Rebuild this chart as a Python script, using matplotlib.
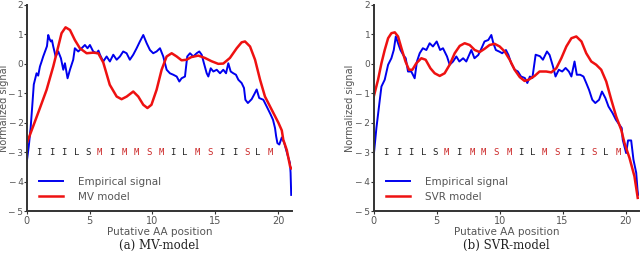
import matplotlib
matplotlib.use("Agg")
import matplotlib.pyplot as plt

# ---- data ----
# empirical signal, left panel
emp_a_x = [0.0, 0.15, 0.3, 0.45, 0.55, 0.77, 0.9, 1.04, 1.15, 1.3, 1.49, 1.6, 1.7, 1.8, 1.91, 2.0,
           2.1, 2.29, 2.5, 2.71, 2.9, 3.03, 3.24, 3.43, 3.69, 3.82, 4.09, 4.36, 4.62, 4.83, 5.02,
           5.28, 5.55, 5.7, 5.82, 6.08, 6.35, 6.61, 6.88, 7.15, 7.41, 7.67, 7.94, 8.2, 8.47,
           8.74, 9.0, 9.27, 9.54, 9.8, 10.06, 10.33, 10.6, 10.86, 11.13, 11.39, 11.66, 11.93,
           12.14, 12.32, 12.59, 12.77, 12.99, 13.25, 13.52, 13.73, 13.92, 14.1, 14.32, 14.45,
           14.64, 14.85, 15.12, 15.38, 15.64, 15.86, 16.04, 16.23, 16.44, 16.65, 16.84, 17.1,
           17.29, 17.4, 17.6, 17.9, 18.1, 18.3, 18.5, 18.83, 19.1, 19.4, 19.6, 19.76, 19.85,
           19.95, 20.1, 20.3, 20.5, 20.75, 20.95, 21.0, 21.05]
emp_a_y = [-3.3, -2.8, -2.17, -1.3, -0.7, -0.32, -0.4, -0.09, 0.05, 0.25, 0.47, 0.6, 0.98, 0.85, 0.76, 0.8,
           0.59, 0.25, 0.42, 0.19, -0.2, 0.02, -0.49, -0.2, 0.14, 0.53, 0.42, 0.53, 0.64, 0.53, 0.64,
           0.42, 0.36, 0.45, 0.31, 0.08, 0.25, 0.08, 0.31, 0.14, 0.25, 0.42, 0.36, 0.14, 0.31,
           0.53, 0.76, 0.98, 0.7, 0.47, 0.36, 0.42, 0.53, 0.25, -0.2, -0.32, -0.37, -0.43,
           -0.6, -0.49, -0.43, 0.25, 0.36, 0.25, 0.36, 0.42, 0.31, 0.02, -0.32, -0.43,
           -0.15, -0.26, -0.2, -0.32, -0.2, -0.32, 0.02, -0.26, -0.32, -0.37, -0.54, -0.65,
           -0.82, -1.22, -1.33, -1.2, -1.04, -0.87, -1.16, -1.22, -1.45, -1.71, -1.9, -2.18, -2.46,
           -2.69, -2.74, -2.5, -2.69, -3.08, -3.37, -3.7, -4.45]

mv_x = [0.0, 0.5, 1.04, 1.57, 2.1, 2.5, 2.76, 3.08, 3.43, 3.82, 4.22, 4.76, 5.28, 5.68, 6.08,
        6.6, 7.15, 7.54, 7.95, 8.47, 8.87, 9.27, 9.6, 9.92, 10.33, 10.73, 11.13, 11.53, 11.93,
        12.32, 12.72, 13.1, 13.65, 14.18, 14.7, 15.24, 15.64, 16.17, 16.71, 17.1, 17.37, 17.77,
        18.17, 18.57, 18.96, 19.5, 20.03, 20.3, 20.42, 20.7, 20.96, 21.05]
mv_y = [-2.69, -2.12, -1.5, -0.88, -0.09, 0.59, 1.04, 1.24, 1.15, 0.81, 0.53, 0.36, 0.38, 0.36, 0.05,
        -0.71, -1.11, -1.2, -1.11, -0.94, -1.11, -1.39, -1.5, -1.39, -0.88, -0.2, 0.25, 0.36, 0.25,
        0.12, 0.14, 0.23, 0.28, 0.2, 0.09, 0.0, 0.01, 0.2, 0.53, 0.73, 0.76, 0.59,
        0.14, -0.54, -1.11, -1.56, -2.0, -2.26, -2.58, -2.93, -3.48, -3.55]

# empirical signal, right panel
emp_b_x = [0.0, 0.21, 0.48, 0.61, 0.87, 1.14, 1.4, 1.59, 1.75, 1.93, 2.12, 2.33, 2.54, 2.72, 2.98,
           3.25, 3.43, 3.65, 3.9, 4.18, 4.44, 4.7, 5.0, 5.27, 5.5, 5.82, 6.03, 6.3, 6.56, 6.8, 7.1,
           7.35, 7.75, 8.0, 8.3, 8.5, 8.8, 9.1, 9.34, 9.5, 9.7, 10.0, 10.2, 10.5, 10.7, 10.92, 11.2,
           11.45, 11.7, 12.0, 12.2, 12.4, 12.6, 12.86, 13.2, 13.44, 13.76, 13.97, 14.24, 14.44,
           14.7, 14.97, 15.24, 15.5, 15.7, 15.95, 16.13, 16.4, 16.66, 16.88, 17.1, 17.36, 17.6,
           17.9, 18.13, 18.4, 18.65, 18.97, 19.24, 19.5, 19.7, 19.78, 20.05, 20.2, 20.45, 20.63,
           20.85, 20.95, 21.0]
emp_b_y = [-3.1, -2.18, -1.22, -0.77, -0.54, -0.03, 0.19, 0.47, 0.93, 0.7, 0.47, 0.31, 0.19, -0.26, -0.26,
           -0.49, 0.08, 0.36, 0.53, 0.47, 0.7, 0.59, 0.76, 0.47, 0.53, 0.25, -0.03, 0.08, 0.25, 0.08, 0.19,
           0.08, 0.47, 0.19, 0.3, 0.47, 0.76, 0.81, 0.98, 0.7, 0.47, 0.41, 0.36, 0.47, 0.3, 0.02, -0.2,
           -0.26, -0.43, -0.48, -0.65, -0.43, -0.48, 0.31, 0.26, 0.14, 0.42, 0.3, -0.09, -0.43,
           -0.2, -0.26, -0.14, -0.26, -0.43, 0.08, -0.37, -0.37, -0.43, -0.65, -0.88, -1.22, -1.33,
           -1.22, -0.94, -1.16, -1.45, -1.67, -1.9, -2.06, -2.18, -2.58, -3.03, -2.6, -2.6, -3.25,
           -3.7, -4.27, -4.45]

svr_x = [0.0, 0.34, 0.61, 0.87, 1.14, 1.4, 1.67, 1.93, 2.2, 2.52, 2.8, 3.07, 3.38, 3.78, 4.12,
         4.5, 4.84, 5.24, 5.63, 6.03, 6.43, 6.83, 7.22, 7.62, 8.02, 8.41, 8.8, 9.2, 9.6, 10.0,
         10.4, 10.8, 11.19, 11.6, 11.98, 12.3, 12.78, 13.17, 13.7, 14.1, 14.5, 14.9, 15.3, 15.7,
         16.09, 16.5, 16.88, 17.28, 17.67, 18.07, 18.47, 18.87, 19.26, 19.66, 19.92, 20.32,
         20.71, 20.97]
svr_y = [-1.11, -0.54, 0.02, 0.47, 0.87, 1.04, 1.07, 0.93, 0.53, 0.08, -0.2, -0.2, 0.02, 0.19, 0.14,
         -0.15, -0.32, -0.41, -0.32, -0.03, 0.36, 0.61, 0.7, 0.64, 0.47, 0.4, 0.51, 0.64, 0.68, 0.59,
         0.42, 0.14, -0.2, -0.45, -0.58, -0.54, -0.41, -0.26, -0.26, -0.29, -0.15, 0.19, 0.59, 0.87,
         0.93, 0.76, 0.36, 0.08, -0.03, -0.2, -0.6, -1.22, -1.79, -2.24, -2.69, -3.2,
         -3.82, -4.55]

# putative amino acid sequence under the curves
aa_letters = list("IIILSMIMMSMILMSIISLM")
aa_x = [0.98, 1.97, 2.95, 3.93, 4.89, 5.79, 6.77, 7.79, 8.74, 9.72,
        10.73, 11.66, 12.59, 13.57, 14.58, 15.51, 16.52, 17.5, 18.42, 19.4]
aa_red = [0, 0, 0, 0, 0, 1, 0, 1, 1, 1, 1, 0, 0, 1, 1, 0, 0, 1, 0, 1]

yticks = [2, 1, 0, -1, -2, -3, -4, -5]
xticks = [0, 5, 10, 15, 20]

panels = [
    dict(emp=(emp_a_x, emp_a_y), mod=(mv_x, mv_y), name="MV model", cap="(a) MV-model",
         box=[0.042, 0.188, 0.414, 0.793], ylab_x=-0.085),
    dict(emp=(emp_b_x, emp_b_y), mod=(svr_x, svr_y), name="SVR model", cap="(b) SVR-model",
         box=[0.584, 0.188, 0.415, 0.793], ylab_x=-0.088),
]

grey = "#555555"
fig = plt.figure(figsize=(6.4, 2.6), dpi=100)

for p in panels:
    ax = fig.add_axes(p["box"])
    ax.plot(p["emp"][0], p["emp"][1], color="#0000ee", lw=1.4, label="Empirical signal")
    ax.plot(p["mod"][0], p["mod"][1], color="#ee1111", lw=1.8, label=p["name"])
    for lx, ch, r in zip(aa_x, aa_letters, aa_red):
        ax.text(lx, -3.0, ch, ha="center", va="center", fontsize=6.5,
                family="DejaVu Sans Mono", color="#cc2a2a" if r else "#222222")
    ax.set_xlim(0, 21.1)
    ax.set_ylim(-5, 2)
    ax.set_xticks(xticks)
    ax.set_yticks(yticks)
    ax.set_yticklabels([("\u2212\u2009%d" % -v) if v < 0 else "%d" % v for v in yticks])
    for s in ["top", "right"]:
        ax.spines[s].set_visible(False)
    for s in ["left", "bottom"]:
        ax.spines[s].set_color("#333333")
        ax.spines[s].set_linewidth(1.4)
    ax.tick_params(direction="out", length=2.5, width=0.8, colors="#333333",
                   labelcolor=grey, labelsize=7, pad=1)
    ax.tick_params(axis="y", pad=0, labelsize=6.5)
    ax.set_xlabel("Putative AA position", fontsize=7.5, color=grey, labelpad=1)
    ax.set_ylabel("Normalized signal", fontsize=7, color=grey)
    ax.yaxis.set_label_coords(p["ylab_x"], 0.5)
    ax.yaxis.label.set_va("center")
    leg = ax.legend(loc="lower left", bbox_to_anchor=(0.01, 0.0), frameon=False,
                    fontsize=7.5, handlelength=2.3, handletextpad=1.5, labelspacing=0.5)
    for t in leg.get_texts():
        t.set_color(grey)
    b = p["box"]
    fig.text(b[0] + b[2] / 2, 0.055, p["cap"], ha="center", va="center",
             fontsize=8.5, family="DejaVu Serif", color="#222222")

fig.savefig("out.png", dpi=100)
